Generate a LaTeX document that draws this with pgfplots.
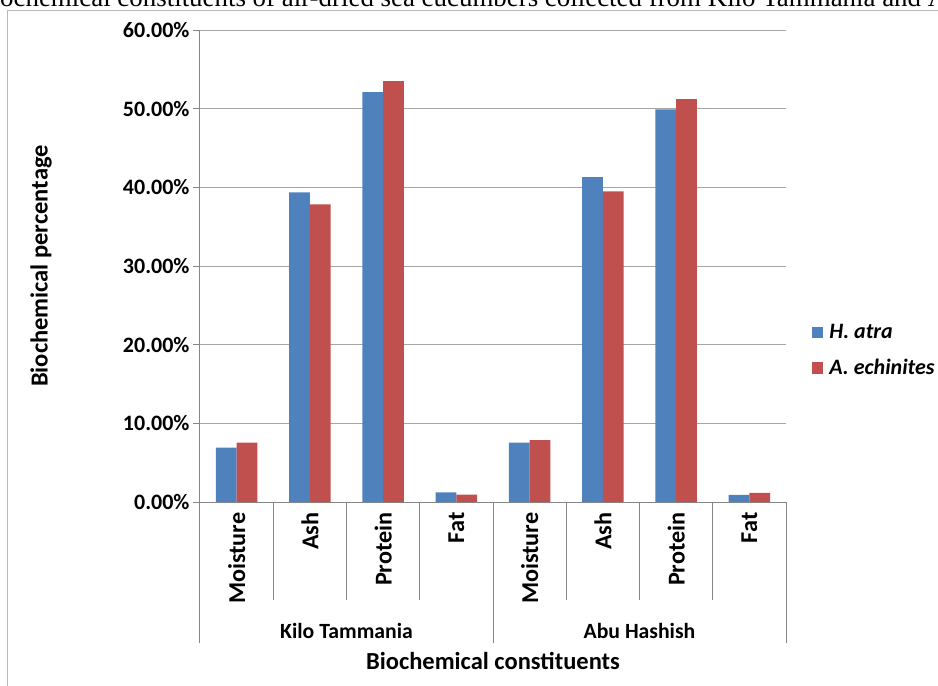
\documentclass[border=0pt]{standalone}
\usepackage{fontspec}
\setmainfont{Carlito}
\newfontfamily\serif{Liberation Serif}
\usepackage{pgfplots}
\pgfplotsset{compat=1.18}
\definecolor{hblue}{HTML}{4F81BD}
\definecolor{ared}{HTML}{C0504D}
\definecolor{gridc}{HTML}{A6A6A6}
\definecolor{axc}{HTML}{868686}
\newcommand{\tickfont}{\bfseries\fontsize{22}{26}\selectfont}
\newcommand{\xtickfont}{\bfseries\fontsize{24.2}{28}\selectfont}
\newcommand{\titlefont}{\bfseries\fontsize{24.5}{28}\selectfont}
\pgfplotsset{sqlegend/.style={legend image code/.code={\fill[##1] (0pt,-5.75pt) rectangle (11.5pt,5.75pt); \path (15.5pt,0pt);}}}

\begin{document}
\begin{tikzpicture}
\useasboundingbox (0,0) rectangle (938pt,686pt);
\draw[gray!55, line width=1pt] (7pt,675pt) rectangle (960pt,-20pt);
\node[anchor=base west, inner sep=0pt, font=\serif\fontsize{26.9}{30}\selectfont]
  at (0pt,679.8pt) {\llap{Bi}ochemical constituents of air-dried sea cucumbers collected from Kilo Tammania and Abu Hashish};
\begin{axis}[
    at={(200pt,184pt)}, anchor=south west,
    scale only axis, width=586pt, height=472pt,
    xmin=0.5, xmax=8.5, ymin=0, ymax=60,
    ybar=0pt, bar width=20.7pt,
    clip=false,
    axis x line*=bottom, axis y line*=left,
    axis line style={axc, line width=1pt, -},
    xtick={1,...,8},
    xticklabels={Moisture,Ash,Protein,Fat,Moisture,Ash,Protein,Fat},
    x tick style={draw=none},
    xticklabel style={rotate=90, anchor=east, font=\xtickfont},
    ytick={0,10,...,60},
    yticklabels={0.00\%,10.00\%,20.00\%,30.00\%,40.00\%,50.00\%,60.00\%},
    yticklabel style={font=\tickfont},
    y tick style={axc, line width=1pt},
    tick align=outside, major tick length=7pt,
    ymajorgrids, grid style={gridc, line width=1pt},
    /pgf/number format/assume math mode=true,
    ylabel={Biochemical percentage},
    ylabel style={at={(axis description cs:-0.2713,0.5)}, anchor=center, font=\titlefont},
    xlabel={Biochemical constituents},
    xlabel style={at={(axis description cs:0.5,-0.337)}, anchor=center, font=\titlefont},
    legend style={draw=none, fill=none, at={(axis description cs:1.044,0.321)}, anchor=west,
      font=\bfseries\itshape\fontsize{22}{26}\selectfont, inner sep=0pt, row sep=15pt,
      nodes={inner sep=2pt}},
    legend cell align=left,
  ]
  \addplot[fill=hblue, draw=none, sqlegend]
    coordinates {(1,6.91) (2,39.35) (3,52.1) (4,1.23) (5,7.55) (6,41.3) (7,49.9) (8,0.89)};
  \addplot[fill=ared, draw=none, sqlegend]
    coordinates {(1,7.55) (2,37.83) (3,53.5) (4,0.93) (5,7.88) (6,39.48) (7,51.2) (8,1.15)};
  \legend{H. atra, A. echinites}
  % category separators below the axis
  \pgfplotsinvokeforeach{1.5,2.5,3.5,5.5,6.5,7.5}{
    \draw[axc, line width=1pt] (axis cs:#1,0) -- ++(0pt,-98pt);
  }
  \pgfplotsinvokeforeach{0.5,4.5,8.5}{
    \draw[axc, line width=1pt] (axis cs:#1,0) -- ++(0pt,-141pt);
  }
  \node[font=\bfseries\fontsize{21.7}{26}\selectfont, anchor=center] at (axis cs:2.5,0) [yshift=-129pt] {Kilo Tammania};
  \node[font=\bfseries\fontsize{21.7}{26}\selectfont, anchor=center] at (axis cs:6.5,0) [yshift=-129pt] {Abu Hashish};
\end{axis}
\end{tikzpicture}
\end{document}
